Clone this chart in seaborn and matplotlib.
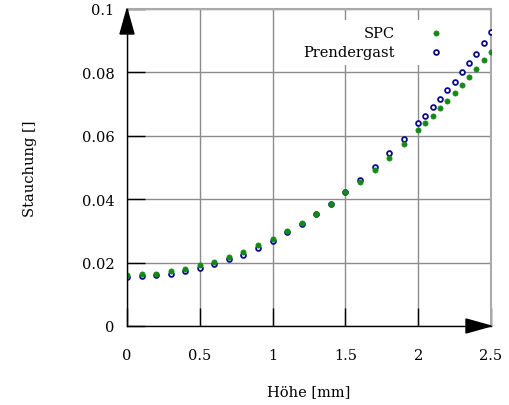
import numpy as np
import pandas as pd
import matplotlib
matplotlib.use("Agg")
import matplotlib.pyplot as plt
from matplotlib.patches import Polygon
import seaborn as sns

# Höhe [mm]: 0.1 steps up to 2.0, then 0.05 steps
hoehe = [0.0, 0.1, 0.2, 0.3, 0.4, 0.5, 0.6, 0.7, 0.8, 0.9, 1.0,
         1.1, 1.2, 1.3, 1.4, 1.5, 1.6, 1.7, 1.8, 1.9, 2.0,
         2.05, 2.1, 2.15, 2.2, 2.25, 2.3, 2.35, 2.4, 2.45, 2.5]

spc = [0.0161, 0.0163, 0.0165, 0.0173, 0.0180, 0.0191, 0.0203, 0.0219, 0.0234, 0.0255, 0.0274,
       0.0301, 0.0324, 0.0354, 0.0385, 0.0422, 0.0454, 0.0493, 0.0531, 0.0575, 0.0617,
       0.0639, 0.0663, 0.0687, 0.0711, 0.0736, 0.0761, 0.0786, 0.0812, 0.0839, 0.0864]

prendergast = [0.0156, 0.0158, 0.0161, 0.0165, 0.0173, 0.0183, 0.0195, 0.0211, 0.0225, 0.0247, 0.0268,
               0.0295, 0.0321, 0.0352, 0.0384, 0.0422, 0.0460, 0.0503, 0.0545, 0.0591, 0.0639,
               0.0663, 0.0690, 0.0716, 0.0744, 0.0771, 0.0801, 0.0830, 0.0859, 0.0893, 0.0926]

xticks = [0, 0.5, 1, 1.5, 2, 2.5]
xticklabels = ["0", "0.5", "1", "1.5", "2", "2.5"]
yticks = [0, 0.02, 0.04, 0.06, 0.08, 0.1]
yticklabels = ["0", "0.02", "0.04", "0.06", "0.08", "0.1"]

df = pd.DataFrame({"Höhe": hoehe, "SPC": spc, "Prendergast": prendergast})

sns.set_style("white")
plt.rcParams["font.family"] = ["DejaVu Serif"]
plt.rcParams["font.size"] = 10.5
plt.rcParams["text.color"] = "black"
plt.rcParams["axes.labelcolor"] = "black"

fig = plt.figure(figsize=(5.09, 4.06), dpi=100)
ax = fig.add_axes([127 / 509, 1 - 327 / 406, 364 / 509, 317 / 406])

sns.scatterplot(data=df, x="Höhe", y="Prendergast", ax=ax, marker="o", s=12,
                facecolor="white", edgecolor="#0a0a8c", linewidth=1.3,
                label="Prendergast", zorder=3)
sns.scatterplot(data=df, x="Höhe", y="SPC", ax=ax, marker="o", s=14,
                color="#138a13", edgecolor="#138a13", linewidth=0.5,
                label="SPC", zorder=4)

ax.set_xlim(0, 2.5)
ax.set_ylim(0, 0.1)
ax.set_xticks(xticks)
ax.set_xticklabels(xticklabels)
ax.set_yticks(yticks)
ax.set_yticklabels(yticklabels)
ax.grid(True, color="#8c8c8c", linewidth=1.0)
ax.set_axisbelow(True)

ax.tick_params(bottom=True, left=True, top=False, right=False,
               direction="in", length=13, width=1, color="black",
               labelsize=10.5, labelcolor="black")
ax.tick_params(axis="x", pad=16)
ax.tick_params(axis="y", pad=9)

for side in ["top", "right"]:
    ax.spines[side].set_color("#aaaaaa")
    ax.spines[side].set_linewidth(1.5)
for side in ["left", "bottom"]:
    ax.spines[side].set_color("black")
    ax.spines[side].set_linewidth(1.0)
    ax.spines[side].set_zorder(5)

ax.set_xlabel("Höhe [mm]", labelpad=16)
ax.set_ylabel("Stauchung []", labelpad=32)

# arrow heads at the axis ends
hw = 7 / 364
hh = 7 / 317
ax.add_patch(Polygon([[0, 1], [-hw, 1 - 25 / 317], [hw, 1 - 25 / 317]], closed=True,
                     transform=ax.transAxes, color="black", clip_on=False, zorder=6))
ax.add_patch(Polygon([[1, 0], [1 - 25 / 364, -hh], [1 - 25 / 364, hh]], closed=True,
                     transform=ax.transAxes, color="black", clip_on=False, zorder=6))

handles, labels = ax.get_legend_handles_labels()
leg = ax.legend(handles[::-1], labels[::-1], loc="upper right",
                bbox_to_anchor=(0.885, 0.966), borderaxespad=0, markerfirst=False,
                handlelength=1.0, handletextpad=2.3, labelspacing=0.38,
                frameon=True, fancybox=False, framealpha=1, fontsize=10.5)
leg.get_frame().set_edgecolor("none")
leg.get_frame().set_facecolor("white")

fig.savefig("out.png", dpi=100)
